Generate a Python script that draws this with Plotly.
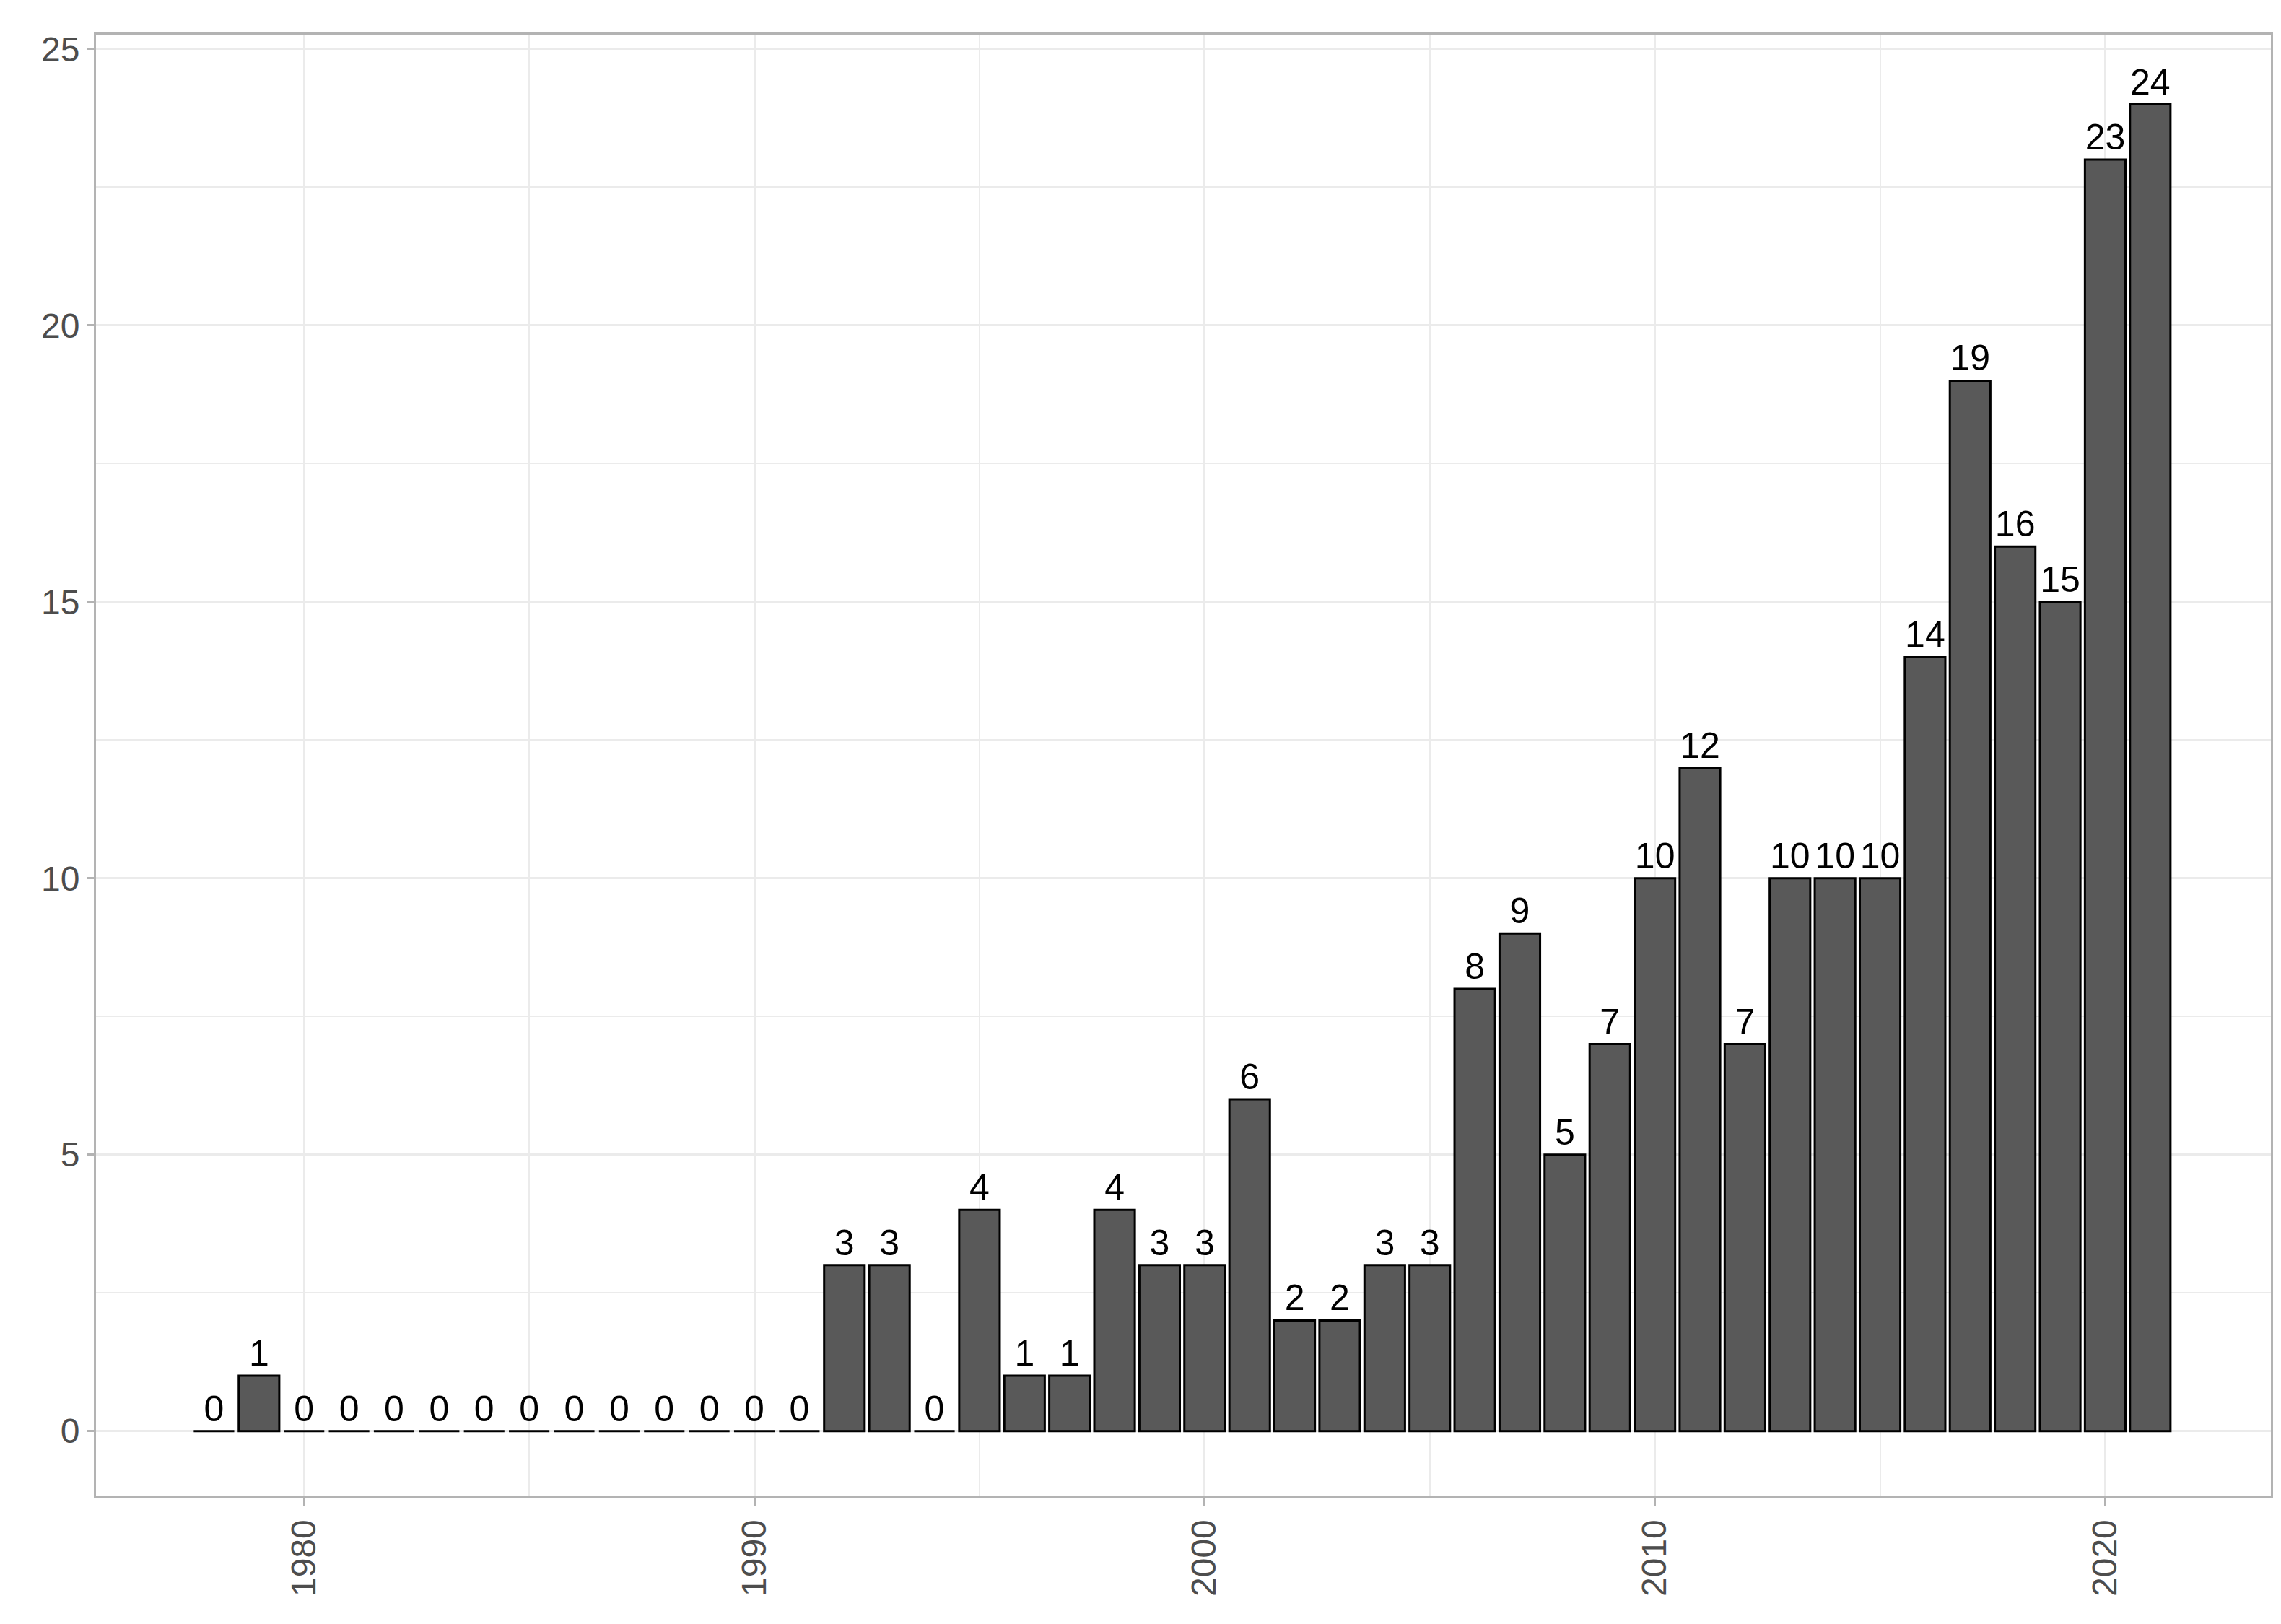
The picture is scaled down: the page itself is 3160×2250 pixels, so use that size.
import plotly.graph_objects as go

years = list(range(1978, 2022))
counts = [0, 1, 0, 0, 0, 0, 0, 0, 0, 0, 0, 0, 0, 0,
          3, 3, 0, 4, 1, 1, 4, 3, 3, 6, 2, 2, 3, 3,
          8, 9, 5, 7, 10, 12, 7, 10, 10, 10, 14, 19, 16, 15, 23, 24]

fig = go.Figure(go.Bar(
    x=years, y=counts, width=0.9,
    marker=dict(color="#595959", line=dict(color="black", width=3)),
    text=[str(c) for c in counts], textposition="outside",
    textfont=dict(size=50, color="black", family="Liberation Sans"),
    cliponaxis=False,
))
grid = "#ebebeb"
fig.update_layout(
    width=3160, height=2250, plot_bgcolor="white", paper_bgcolor="white",
    margin=dict(l=125, r=22, t=40, b=185), showlegend=False,
    font=dict(family="Liberation Sans", color="#4d4d4d", size=48),
    bargap=0.1,
)
fig.update_xaxes(range=[1975.38, 2023.68], tickvals=[1980, 1990, 2000, 2010, 2020],
                 tickangle=-90, showgrid=True, gridcolor=grid, gridwidth=3,
                 minor=dict(tickvals=[1985, 1995, 2005, 2015], showgrid=True, gridcolor=grid, gridwidth=1.5),
                 showline=True, linecolor="#b3b3b3", linewidth=3, mirror=True,
                 ticks="outside", ticklen=10, tickcolor="#b3b3b3", tickwidth=3, zeroline=False)
fig.update_yaxes(range=[-1.18, 25.26], tickvals=[0, 5, 10, 15, 20, 25],
                 showgrid=True, gridcolor=grid, gridwidth=3,
                 minor=dict(tickvals=[2.5, 7.5, 12.5, 17.5, 22.5], showgrid=True, gridcolor=grid, gridwidth=1.5),
                 showline=True, linecolor="#b3b3b3", linewidth=3, mirror=True,
                 ticks="outside", ticklen=10, tickcolor="#b3b3b3", tickwidth=3, zeroline=False)
fig.write_html("out.html")
